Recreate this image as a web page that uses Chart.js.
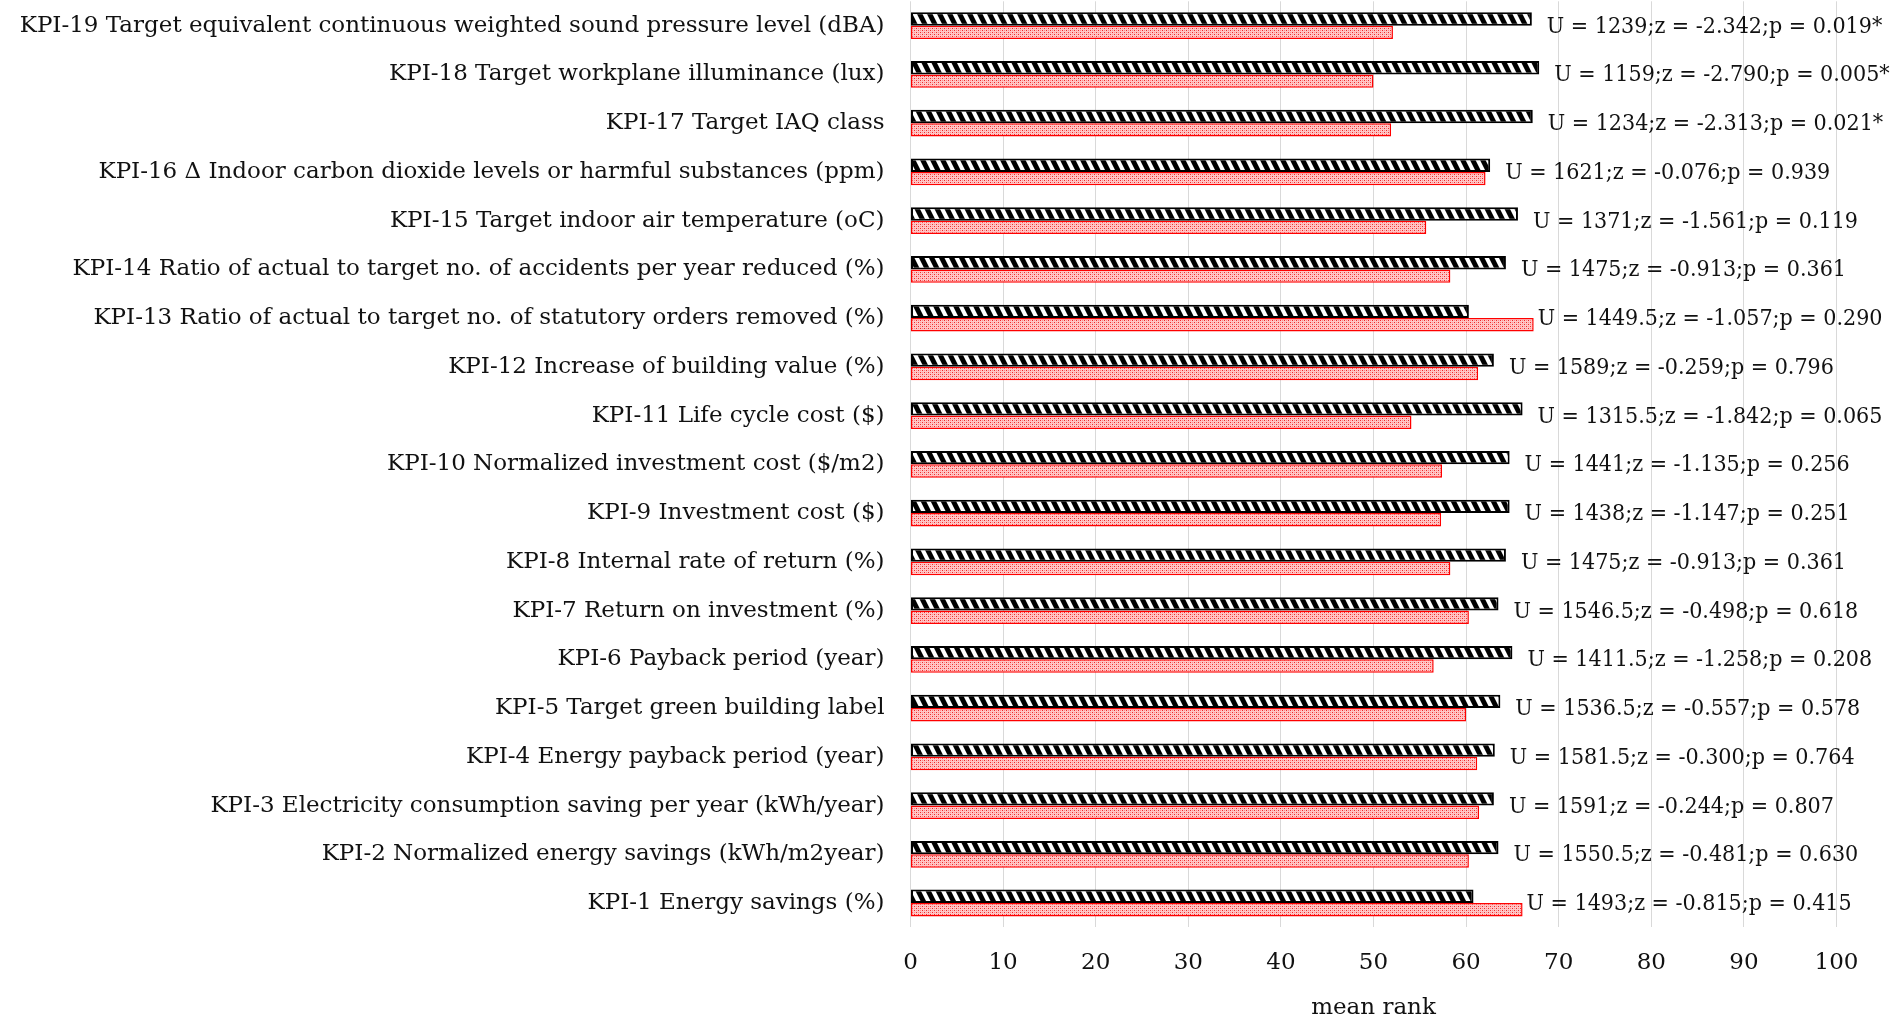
<!DOCTYPE html>
<html>
<head>
<meta charset="utf-8">
<script src="https://cdn.jsdelivr.net/npm/chart.js@4/dist/chart.umd.min.js"></script>
<style>
  html, body { margin: 0; padding: 0; background: #fff; }
  #wrap { width: 1897px; height: 1022px; position: relative; }
</style>
</head>
<body>
<div id="wrap"><canvas id="kpi"></canvas></div>
<script>
// KPI names, bottom (KPI-1) to top (KPI-19)
const kpiLabels = [
  'KPI-1 Energy savings (%)',
  'KPI-2 Normalized energy savings (kWh/m2year)',
  'KPI-3 Electricity consumption saving per year (kWh/year)',
  'KPI-4 Energy payback period (year)',
  'KPI-5 Target green building label',
  'KPI-6 Payback period (year)',
  'KPI-7 Return on investment (%)',
  'KPI-8 Internal rate of return (%)',
  'KPI-9 Investment cost ($)',
  'KPI-10 Normalized investment cost ($/m2)',
  'KPI-11 Life cycle cost ($)',
  'KPI-12 Increase of building value (%)',
  'KPI-13 Ratio of actual to target no. of statutory orders removed (%)',
  'KPI-14 Ratio of actual to target no. of accidents per year reduced (%)',
  'KPI-15 Target indoor air temperature (oC)',
  'KPI-16 \u0394 Indoor carbon dioxide levels or harmful substances (ppm)',
  'KPI-17 Target IAQ class',
  'KPI-18 Target workplane illuminance (lux)',
  'KPI-19 Target equivalent continuous weighted sound pressure level (dBA)'
];

// Mean ranks of the two groups
const meanRankHatched = [60.8, 63.5, 63.0, 63.1, 63.7, 65.0, 63.5, 64.3, 64.7, 64.7, 66.1, 63.0, 60.3, 64.3, 65.6, 62.6, 67.2, 67.9, 67.1];
const meanRankDotted  = [66.1, 60.3, 61.4, 61.2, 60.0, 56.5, 60.3, 58.3, 57.3, 57.4, 54.1, 61.3, 67.3, 58.3, 55.7, 62.1, 51.9, 50.0, 52.1];

// Mann-Whitney test results per KPI
const uStat = [1493, 1550.5, 1591, 1581.5, 1536.5, 1411.5, 1546.5, 1475, 1438, 1441, 1315.5, 1589, 1449.5, 1475, 1371, 1621, 1234, 1159, 1239];
const zStat = [-0.815, -0.481, -0.244, -0.300, -0.557, -1.258, -0.498, -0.913, -1.147, -1.135, -1.842, -0.259, -1.057, -0.913, -1.561, -0.076, -2.313, -2.790, -2.342];
const pStat = [0.415, 0.630, 0.807, 0.764, 0.578, 0.208, 0.618, 0.361, 0.251, 0.256, 0.065, 0.796, 0.290, 0.361, 0.119, 0.939, 0.021, 0.005, 0.019];
const significant = [false, false, false, false, false, false, false, false, false, false, false, false, false, false, false, false, true, true, true];

const xTicks = [0, 10, 20, 30, 40, 50, 60, 70, 80, 90, 100];

const FONT_FAMILY = "'DejaVu Serif', serif";
const NOTE_FAMILY = "'DejaVu Serif Condensed', 'DejaVu Serif', serif";

// Black-and-white wide downward diagonal hatch
function hatchPattern() {
  const W = 10, H = 20, w = 5.5;
  const c = document.createElement('canvas');
  c.width = W; c.height = H;
  const g = c.getContext('2d');
  g.fillStyle = '#fff';
  g.fillRect(0, 0, W, H);
  g.fillStyle = '#000';
  for (const x0 of [-W, 0]) {
    g.beginPath();
    g.moveTo(x0, 0);
    g.lineTo(x0 + w, 0);
    g.lineTo(x0 + w + W, H);
    g.lineTo(x0 + W, H);
    g.closePath();
    g.fill();
  }
  return g.createPattern(c, 'repeat');
}

// Pink fill with fine red dots
function dotPattern() {
  const c = document.createElement('canvas');
  c.width = 4; c.height = 4;
  const g = c.getContext('2d');
  g.fillStyle = '#ffc6c6';
  g.fillRect(0, 0, 4, 4);
  g.fillStyle = '#ee2a2a';
  g.fillRect(0, 0, 1, 1);
  g.fillRect(2, 2, 1, 1);
  g.fillStyle = '#ff8a8a';
  g.fillRect(2, 0, 1, 1);
  g.fillRect(0, 2, 1, 1);
  return g.createPattern(c, 'repeat');
}

function noteText(i) {
  return 'U = ' + uStat[i] + ';z = ' + zStat[i].toFixed(3) + ';p = ' + pStat[i].toFixed(3) + (significant[i] ? '*' : '');
}

// Test statistics written to the right of each bar pair
const statNotes = {
  id: 'statNotes',
  afterDatasetsDraw(chart) {
    const { ctx, scales: { x, y } } = chart;
    ctx.save();
    ctx.font = '23px ' + NOTE_FAMILY;
    ctx.fillStyle = '#111';
    ctx.textAlign = 'left';
    ctx.textBaseline = 'middle';
    kpiLabels.forEach((_, i) => {
      const tx = Math.max(x.getPixelForValue(meanRankHatched[i]) + 15, x.getPixelForValue(meanRankDotted[i]) + 4);
      const ty = y.getPixelForValue(i) + 1;
      ctx.fillText(noteText(i), tx, ty);
    });
    ctx.restore();
  }
};

new Chart(document.getElementById('kpi'), {
  type: 'bar',
  data: {
    labels: kpiLabels,
    datasets: [
      {
        data: meanRankHatched,
        backgroundColor: hatchPattern(),
        borderColor: '#000',
        borderWidth: 2,
        borderSkipped: false
      },
      {
        data: meanRankDotted,
        backgroundColor: dotPattern(),
        borderColor: '#ff0000',
        borderWidth: 1.5,
        borderSkipped: false
      }
    ]
  },
  options: {
    indexAxis: 'y',
    responsive: true,
    maintainAspectRatio: false,
    animation: false,
    devicePixelRatio: 1,
    categoryPercentage: 0.55,
    barPercentage: 1.0,
    layout: { padding: { left: 0, right: 60.5, top: 1.3, bottom: 0 } },
    plugins: {
      legend: { display: false },
      tooltip: { enabled: false }
    },
    scales: {
      x: {
        type: 'linear',
        min: 0,
        max: 100,
        afterBuildTicks(scale) { scale.ticks = xTicks.map(v => ({ value: v })); },
        afterFit(scale) { scale.height = 94.6; },
        grid: { color: '#d9d9d9', lineWidth: 1, drawTicks: false },
        border: { display: false },
        ticks: {
          font: { family: FONT_FAMILY, size: 23 },
          color: '#111',
          padding: 22
        },
        title: {
          display: true,
          text: 'mean rank',
          font: { family: FONT_FAMILY, size: 23 },
          color: '#111',
          padding: { top: 0, bottom: 0 }
        }
      },
      y: {
        type: 'category',
        reverse: true,
        afterFit(scale) {
          scale.width = 910.5;
          scale.paddingTop = 0;
          scale.paddingBottom = 0;
        },
        grid: { display: false },
        border: { display: false },
        ticks: {
          font: { family: FONT_FAMILY, size: 23 },
          color: '#111',
          padding: 18,
          autoSkip: false
        }
      }
    }
  },
  plugins: [statNotes]
});
</script>
</body>
</html>
